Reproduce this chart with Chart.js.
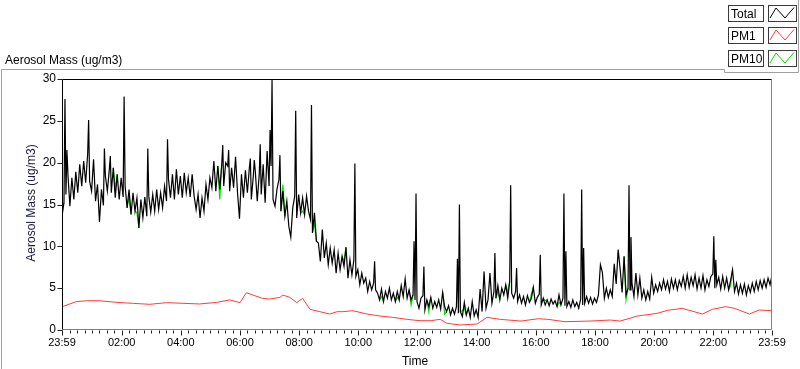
<!DOCTYPE html>
<html>
<head>
<meta charset="utf-8">
<title>Aerosol Mass</title>
<script src="https://cdn.jsdelivr.net/npm/chart.js@4.4.1/dist/chart.umd.min.js"></script>
<style>
  html, body { margin: 0; padding: 0; background: #fff; }
  #wrap { position: relative; width: 800px; height: 369px; }
</style>
</head>
<body>
<div id="wrap"><canvas id="chart"></canvas></div>
<script>
// regular readings every 4 minutes, counted from 23:59
const STEP = 4;

const totalMass = [
  13.6, 15.2, 16.2, 18.6, 14.8, 18.2, 15.6, 18.9, 16.4, 19.8,
  17.2, 20.2, 17.6, 21.0, 17.8, 16.6, 20.4, 15.4, 17.4, 12.9,
  16.8, 14.9, 18.4, 16.6, 19.2, 16.4, 19.4, 15.8, 18.6, 15.6,
  18.2, 15.9, 17.2, 14.6, 16.8, 13.8, 16.4, 14.2, 15.8, 12.2,
  15.6, 13.4, 15.9, 13.6, 16.0, 14.1, 16.2, 14.2, 16.8, 14.4,
  16.4, 14.6, 17.2, 15.4, 18.0, 15.8, 18.6, 15.6, 19.2, 16.2,
  18.4, 15.8, 18.8, 16.4, 18.2, 15.9, 18.6, 16.0, 14.4, 16.2,
  13.4, 15.8, 14.2, 17.4, 15.6, 18.2, 17.0, 20.2, 16.6, 19.6,
  16.8, 19.8, 17.2, 20.0, 19.6, 16.6, 19.4, 17.0, 20.7, 16.4,
  13.3, 18.6, 15.8, 19.1, 16.4, 19.4, 15.6, 18.4, 19.0, 15.4,
  18.6, 16.2, 19.8, 15.2, 21.4, 17.2, 19.6, 15.6, 14.8, 16.8,
  18.0, 14.2, 16.6, 13.6, 15.4, 12.4, 11.1, 14.6, 16.0, 13.4,
  16.2, 14.0, 15.8, 13.8, 16.0, 14.2, 13.2, 11.6, 14.0, 10.6,
  10.4, 8.2, 12.0, 8.6, 10.4, 7.8, 9.8, 8.0, 9.6, 6.8,
  9.2, 7.2, 8.8, 7.6, 9.9, 6.2, 8.4, 6.6, 8.4, 6.4,
  7.2, 5.4, 6.8, 5.6, 6.2, 4.6, 5.8, 4.8, 5.6, 4.8,
  4.4, 3.6, 4.9, 3.4, 4.6, 3.8, 5.0, 3.6, 4.4, 3.4,
  4.6, 3.6, 5.3, 4.0, 6.1, 3.8, 4.8, 3.6, 4.2, 3.6,
  3.4, 2.6, 3.8, 4.1, 2.4, 3.6, 2.8, 3.9, 2.6, 3.4,
  2.7, 3.6, 2.5, 4.5, 2.8, 2.2, 2.9, 1.8, 2.6, 1.9,
  2.8, 2.0, 2.2, 1.6, 3.3, 1.8, 2.6, 1.5, 3.4, 1.7,
  2.4, 1.5, 4.9, 2.2, 7.0, 2.6, 3.6, 6.8, 3.2, 4.6,
  3.8, 5.3, 3.6, 5.0, 4.2, 5.4, 3.8, 5.8, 4.4, 3.8,
  4.6, 3.4, 4.2, 3.2, 4.0, 3.0, 4.1, 3.3, 3.8, 5.1,
  3.2, 3.9, 4.3, 3.0, 3.8, 3.0, 3.6, 2.9, 3.7, 3.1,
  3.5, 2.8, 4.2, 3.0, 3.8, 2.9, 2.8, 3.4, 2.7, 3.6,
  2.8, 3.3, 2.6, 3.7, 3.0, 3.2, 4.0, 3.2, 3.9, 3.1,
  3.8, 3.3, 4.2, 7.8, 6.9, 3.8, 5.0, 3.9, 4.8, 4.0,
  7.9, 5.5, 9.6, 7.3, 4.5, 8.8, 4.2, 5.0, 4.8, 5.6,
  4.0, 6.8, 4.2, 6.2, 3.8, 4.8, 3.6, 4.6, 3.7, 6.3,
  4.4, 5.4, 4.6, 5.6, 4.8, 6.0, 4.9, 5.8, 4.6, 6.1,
  5.0, 6.0, 4.8, 5.9, 5.2, 6.4, 5.0, 6.6, 5.1, 6.3,
  5.3, 6.6, 4.9, 6.2, 5.0, 6.5, 4.8, 6.0, 5.2, 6.4,
  6.7, 5.0, 5.4, 6.3, 4.9, 6.4, 5.0, 6.2, 4.8, 5.9,
  7.2, 4.6, 5.6, 4.3, 5.4, 4.4, 5.5, 4.2, 5.3, 4.5,
  5.6, 4.6, 5.8, 4.8, 5.9, 5.0, 6.0, 5.1, 6.2, 5.4,
  6.6
];

const pm10Mass = [
  14.6, 15.2, 16.2, 18.6, 14.8, 18.2, 15.6, 18.9, 16.4, 19.8,
  17.2, 20.2, 17.6, 21.0, 17.8, 16.6, 20.4, 15.4, 17.4, 12.9,
  16.8, 14.9, 18.4, 16.6, 19.2, 16.4, 19.4, 16.9, 18.6, 15.6,
  18.2, 15.9, 17.2, 14.6, 15.9, 13.8, 16.4, 14.2, 14.0, 12.2,
  15.6, 13.4, 15.9, 13.6, 16.0, 14.1, 16.2, 14.2, 16.8, 14.4,
  16.4, 14.6, 17.2, 15.4, 18.0, 15.8, 18.6, 15.6, 19.2, 16.2,
  18.4, 15.8, 18.8, 16.4, 18.2, 15.9, 18.6, 16.0, 14.4, 16.2,
  13.4, 15.8, 14.2, 17.4, 15.6, 18.2, 17.0, 20.2, 16.6, 19.6,
  15.6, 19.8, 17.2, 20.0, 19.6, 16.6, 19.4, 17.0, 20.7, 16.4,
  13.3, 18.6, 15.8, 19.1, 16.4, 19.4, 15.6, 18.4, 19.0, 15.4,
  18.6, 16.2, 19.8, 15.2, 21.4, 17.2, 19.6, 15.6, 14.8, 16.8,
  18.0, 14.2, 17.4, 13.6, 15.4, 12.4, 11.1, 14.6, 16.0, 13.4,
  16.2, 14.0, 14.2, 13.8, 16.0, 14.2, 13.2, 11.6, 12.8, 10.6,
  10.4, 8.2, 12.0, 8.6, 10.4, 7.8, 9.8, 8.0, 9.6, 6.8,
  9.2, 7.2, 8.8, 8.2, 9.9, 6.2, 8.4, 6.6, 8.4, 6.4,
  7.2, 5.4, 6.8, 5.6, 6.2, 4.6, 5.8, 4.8, 5.6, 4.8,
  4.4, 3.6, 4.0, 3.4, 4.6, 3.8, 5.0, 3.6, 4.4, 3.4,
  3.9, 3.6, 5.3, 4.0, 6.1, 3.8, 4.8, 3.0, 4.2, 3.6,
  3.4, 2.6, 3.8, 4.1, 2.4, 3.6, 2.2, 3.9, 2.6, 3.4,
  2.7, 3.6, 2.5, 4.5, 1.9, 2.2, 2.9, 1.8, 2.6, 1.9,
  2.8, 2.0, 2.2, 2.3, 2.6, 1.8, 2.6, 1.5, 3.4, 1.7,
  2.4, 1.5, 4.9, 2.2, 7.0, 2.6, 3.6, 6.8, 3.2, 4.6,
  3.8, 4.6, 3.6, 5.0, 4.2, 5.4, 4.5, 5.8, 4.4, 3.8,
  4.6, 3.4, 4.2, 3.2, 4.0, 3.0, 4.1, 3.3, 4.3, 5.1,
  3.2, 3.9, 4.3, 3.0, 3.8, 3.5, 3.6, 2.9, 3.7, 3.1,
  3.5, 2.8, 3.3, 3.0, 3.8, 2.9, 2.8, 3.4, 2.7, 3.6,
  2.8, 3.3, 2.6, 3.7, 3.0, 3.2, 4.0, 3.2, 3.9, 3.1,
  3.8, 3.3, 4.2, 7.8, 6.9, 3.8, 5.0, 3.9, 4.8, 4.0,
  7.9, 5.5, 9.6, 7.3, 4.5, 8.8, 3.6, 5.0, 4.8, 5.6,
  4.0, 6.8, 4.2, 6.2, 3.8, 4.8, 3.6, 4.6, 3.7, 6.3,
  4.4, 5.4, 4.6, 5.6, 4.8, 6.0, 4.9, 5.8, 4.6, 6.1,
  5.0, 6.0, 4.8, 5.9, 5.2, 6.4, 5.0, 6.6, 5.1, 6.3,
  5.3, 6.6, 4.9, 6.2, 5.0, 6.5, 4.8, 6.0, 5.2, 6.4,
  6.7, 5.0, 5.4, 6.3, 4.9, 6.4, 5.0, 6.2, 4.8, 5.3,
  7.2, 4.6, 5.6, 4.3, 5.4, 4.4, 5.5, 4.2, 5.3, 4.5,
  5.6, 4.6, 5.8, 4.8, 5.9, 5.0, 6.0, 5.1, 6.2, 5.4,
  6.6
];

// short one-off peaks, between the regular readings
const spikeMinutes = [6, 10, 54, 86, 98, 126, 174, 214, 326, 338, 382, 390, 402, 422, 426, 442,
  474, 506, 594, 634, 714, 718, 734, 802, 806, 878, 910, 922, 970, 1018, 1022, 1054, 1058,
  1150, 1154, 1322, 1326];
const totalSpikeMass = [27.6, 21.5, 25.1, 21.7, 20.8, 27.9, 21.7, 22.8, 22.1, 21.5, 20.5, 20.3, 22.2, 23.9, 29.9, 20.9,
  26.2, 26.9, 19.9, 8.2, 10.6, 16.3, 7.6, 8.5, 15.0, 9.2, 17.3, 7.4, 9.0, 16.3, 9.4, 16.8, 9.8,
  17.3, 11.1, 11.2, 8.4];
const pm10SpikeMass = [27.6, 21.5, 25.1, 21.7, 20.8, 27.9, 21.7, 22.8, 22.1, 21.5, 20.5, 20.3, 22.2, 23.9, 29.9, 20.9,
  26.2, 26.9, 19.9, 8.2, 10.6, 16.3, 7.6, 8.5, 15.0, 9.2, 17.3, 7.4, 9.0, 16.3, 9.4, 16.8, 9.8,
  17.3, 11.1, 11.2, 8.4];

const pm1Minutes = [1, 29, 50, 76, 111, 143, 178, 212, 245, 279, 314, 340, 361, 374, 387,
  407, 421, 442, 448, 462, 476, 488, 503, 523, 543, 558, 570, 590, 618, 645,
  671, 700, 726, 747, 767, 781, 807, 842, 862, 889, 931, 966, 986, 1020, 1071,
  1112, 1132, 1167, 1207, 1228, 1258, 1299, 1319, 1346, 1364, 1394, 1414, 1440];
const pm1Mass = [2.8, 3.39, 3.5, 3.5, 3.3, 3.19, 3.07, 3.27, 3.19, 3.11, 3.3, 3.6, 3.27, 4.46, 4.18,
  3.78, 3.7, 3.9, 4.18, 3.9, 3.27, 3.78, 2.47, 2.19, 1.91, 2.19, 2.19, 2.31, 1.91, 1.67,
  1.51, 1.27, 1.11, 1.11, 1.27, 0.8, 0.6, 0.72, 1.51, 1.27, 1.07, 1.35, 1.27, 0.99, 1.07,
  1.19, 1.07, 1.67, 1.99, 2.35, 2.59, 1.91, 2.47, 2.79, 2.59, 1.91, 2.39, 2.31];

const xTickMinutes = [0, 121, 241, 361, 481, 601, 721, 841, 961, 1081, 1201, 1321, 1440];
const xTickLabels = ["23:59", "02:00", "04:00", "06:00", "08:00", "10:00", "12:00",
  "14:00", "16:00", "18:00", "20:00", "22:00", "23:59"];
const yTicks = [0, 5, 10, 15, 20, 25, 30];

const legendNames = ["Total", "PM1", "PM10"];
const legendColors = ["#000000", "#ff3b3b", "#00e000"];

const FONT = "'Liberation Sans', Arial, sans-serif";

function series(values, peaks) {
  const out = values.map((v, i) => ({ x: i * STEP, y: v }));
  spikeMinutes.forEach((m, k) => out.push({ x: m, y: peaks[k] }));
  return out.sort((a, b) => a.x - b.x);
}

const totalPts = series(totalMass, totalSpikeMass);
const pm10Pts = series(pm10Mass, pm10SpikeMass);

// PM10 sits under Total; only show it where the two differ
function pm10Segment(ctx) {
  const a = ctx.p0DataIndex, b = ctx.p1DataIndex;
  if (pm10Pts[a].y === totalPts[a].y && pm10Pts[b].y === totalPts[b].y) return "rgba(0,0,0,0)";
  return "#00e000";
}

const decor = {
  id: "decor",
  afterDraw(chart) {
    const { ctx, chartArea: a, scales } = chart;
    const xs = scales.x, ys = scales.y;
    ctx.save();

    // panel outlines
    ctx.strokeStyle = "#a0a0a0";
    ctx.lineWidth = 1;
    ctx.beginPath();
    ctx.moveTo(1.5, 369); ctx.lineTo(1.5, 69.5); ctx.lineTo(724.5, 69.5);
    ctx.lineTo(724.5, 72.5); ctx.lineTo(798.5, 72.5); ctx.lineTo(798.5, 0);
    ctx.stroke();

    // plot frame
    const L = Math.round(a.left) + 0.5, R = Math.round(a.right) - 0.5;
    const T = Math.round(a.top) + 0.5, B = Math.round(a.bottom) - 0.5;
    ctx.strokeStyle = "#808080";
    ctx.beginPath();
    ctx.moveTo(R, T); ctx.lineTo(R, B); ctx.lineTo(L, B);
    ctx.stroke();
    ctx.strokeStyle = "#000";
    ctx.beginPath();
    ctx.moveTo(L, B); ctx.lineTo(L, T); ctx.lineTo(R, T);
    ctx.stroke();

    // tick marks
    ctx.strokeStyle = "#202020";
    ctx.beginPath();
    for (let m = 16; m < 1440; m += 15) {
      if (xTickMinutes.includes(m)) continue;
      const px = Math.round(xs.getPixelForValue(m)) + 0.5;
      ctx.moveTo(px, B + 1); ctx.lineTo(px, B + 4);
    }
    xTickMinutes.forEach(m => {
      const px = Math.round(xs.getPixelForValue(m)) + 0.5;
      ctx.moveTo(px, B + 1); ctx.lineTo(px, B + 6);
    });
    yTicks.forEach(v => {
      const py = Math.round(ys.getPixelForValue(v)) + 0.5;
      ctx.moveTo(L - 5, py); ctx.lineTo(L, py);
    });
    ctx.stroke();

    // titles
    ctx.fillStyle = "#000";
    ctx.font = "12px " + FONT;
    ctx.textAlign = "left";
    ctx.textBaseline = "alphabetic";
    ctx.fillText("Aerosol Mass (ug/m3)", 5, 64);
    ctx.textAlign = "center";
    ctx.fillText("Time", 415, 365);
    ctx.save();
    ctx.translate(35, 203);
    ctx.rotate(-Math.PI / 2);
    ctx.fillStyle = "#1a1a40";
    ctx.fillText("Aerosol Mass (ug/m3)", 0, 0);
    ctx.restore();

    // legend
    legendNames.forEach((name, k) => {
      const t = Math.round(4.5 + k * 22.8);
      ctx.strokeStyle = "#3a3a3a";
      ctx.lineWidth = 1;
      ctx.strokeRect(728.5, t + 0.5, 35, 16);
      ctx.strokeRect(768.5, t + 0.5, 28, 16);
      ctx.fillStyle = "#000";
      ctx.textAlign = "left";
      ctx.fillText(name, 731, t + 13);
      ctx.strokeStyle = legendColors[k];
      ctx.beginPath();
      ctx.moveTo(770, t + 13); ctx.lineTo(776, t + 3);
      ctx.lineTo(785, t + 13); ctx.lineTo(794, t + 2.5);
      ctx.stroke();
    });

    ctx.restore();
  }
};

new Chart(document.getElementById("chart"), {
  type: "line",
  data: {
    datasets: [
      { label: "Total", data: totalPts, borderColor: "#000", borderWidth: 1.2, order: 0 },
      { label: "PM10", data: pm10Pts, borderColor: "#00e000", borderWidth: 1.2, order: 1,
        segment: { borderColor: pm10Segment } },
      { label: "PM1", data: pm1Minutes.map((m, i) => ({ x: m, y: pm1Mass[i] })),
        borderColor: "#ff3b3b", borderWidth: 1, order: 2 }
    ]
  },
  options: {
    responsive: true,
    maintainAspectRatio: false,
    animation: false,
    events: [],
    elements: { point: { radius: 0 }, line: { tension: 0 } },
    layout: { padding: { left: 0, right: 28, top: 79, bottom: 0 } },
    plugins: { legend: { display: false }, tooltip: { enabled: false } },
    scales: {
      x: {
        type: "linear", min: 0, max: 1440,
        grid: { display: false, drawTicks: false },
        border: { display: false },
        afterBuildTicks: s => { s.ticks = xTickMinutes.map(v => ({ value: v })); },
        afterFit: s => { s.height = 39; },
        ticks: {
          autoSkip: false, maxRotation: 0, padding: 6, color: "#000",
          font: { family: FONT, size: 11 },
          callback: v => xTickLabels[xTickMinutes.indexOf(v)]
        }
      },
      y: {
        min: 0, max: 30,
        grid: { display: false, drawTicks: false },
        border: { display: false },
        afterBuildTicks: s => { s.ticks = yTicks.map(v => ({ value: v })); },
        afterFit: s => { s.width = 62; },
        ticks: { padding: 6, color: "#000", font: { family: FONT, size: 12 } }
      }
    }
  },
  plugins: [decor]
});
</script>
</body>
</html>
